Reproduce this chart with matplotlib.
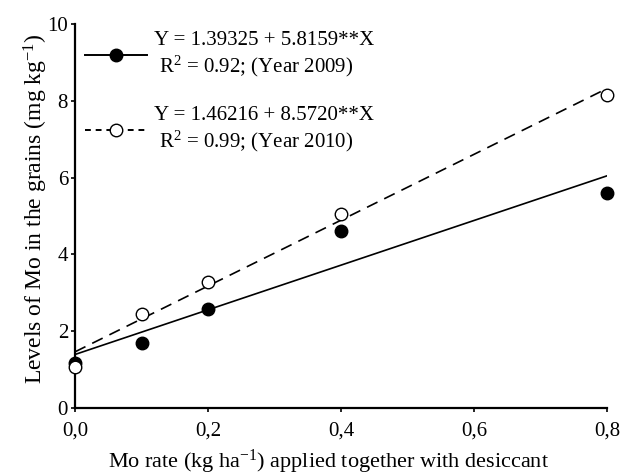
import numpy as np
import matplotlib.pyplot as plt

plt.rcParams['font.family'] = ['Liberation Serif', 'DejaVu Serif']
plt.rcParams['mathtext.fontset'] = 'custom'
plt.rcParams['mathtext.rm'] = 'Liberation Serif'
plt.rcParams['mathtext.it'] = 'Liberation Serif:italic'
plt.rcParams['mathtext.default'] = 'rm'

rates = [0.0, 0.1, 0.2, 0.4, 0.8]
mo_2009 = [1.18, 1.70, 2.58, 4.62, 5.60]
mo_2010 = [1.08, 2.45, 3.27, 5.05, 8.15]

fit_2009 = (1.39325, 5.8159)
fit_2010 = (1.46216, 8.5720)

x_ticks = [0.0, 0.2, 0.4, 0.6, 0.8]
x_tick_labels = ['0,0', '0,2', '0,4', '0,6', '0,8']
y_ticks = [0, 2, 4, 6, 8, 10]

fig = plt.figure(figsize=(6.22, 4.76), dpi=100)
ax = fig.add_axes([0.1206, 0.1429, 0.8553, 0.8067])

xf = np.array([0.0, 0.8])
ax.plot(xf, fit_2009[0] + fit_2009[1] * xf, color='black', lw=1.2, zorder=2)
ax.plot(xf, fit_2010[0] + fit_2010[1] * xf, color='black', lw=1.2,
        ls=(0, (7, 4.5)), zorder=2)
ax.plot(rates, mo_2009, 'o', color='black', ms=9, zorder=3, clip_on=False)
ax.plot(rates, mo_2010, 'o', mfc='white', mec='black', mew=1.0, ms=9, zorder=4,
        clip_on=False)

h1, = ax.plot([], [], color='black', lw=1.4, marker='o', ms=9)
h2, = ax.plot([], [], color='black', lw=1.4, ls=(0, (3, 2.5)), marker='o',
              mfc='white', mec='black', ms=9)
ax.legend([h1, h2],
          ['Y = 1.39325 + 5.8159**X\n R$^2$ = 0.92; (Year 2009)',
           'Y = 1.46216 + 8.5720**X\n R$^2$ = 0.99; (Year 2010)'],
          loc='upper left', frameon=False, fontsize=15, handlelength=3.0,
          handletextpad=0.3, labelspacing=1.3, borderaxespad=0.0,
          bbox_to_anchor=(0.003, 1.003))

ax.set_xlim(0, 0.8)
ax.set_ylim(0, 10)
ax.set_xticks(x_ticks)
ax.set_xticklabels(x_tick_labels)
ax.set_yticks(y_ticks)
ax.tick_params(direction='out', length=3, width=1.2, labelsize=15)
ax.tick_params(axis='x', pad=7)
ax.tick_params(axis='y', pad=2)
for s in ['top', 'right']:
    ax.spines[s].set_visible(False)
for s in ['left', 'bottom']:
    ax.spines[s].set_linewidth(1.6)

ax.set_xlabel('Mo rate (kg ha$^{-1}$) applied together with desiccant', fontsize=16,
              labelpad=5)
ax.xaxis.label.set_x(0.476)
ax.set_ylabel('Levels of Mo in the grains (mg kg$^{-1}$)', fontsize=17, labelpad=-2)
ax.yaxis.label.set_y(0.52)

fig.savefig('out.png', dpi=100)
